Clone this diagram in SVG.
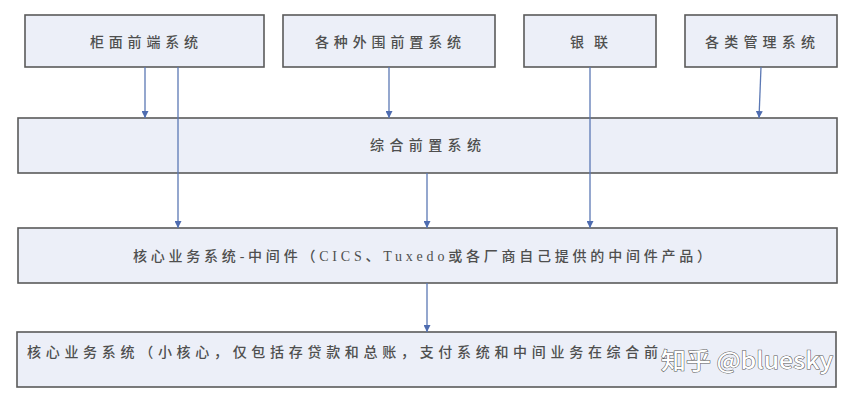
<svg xmlns="http://www.w3.org/2000/svg" width="858" height="400" viewBox="0 0 858 400">
<defs>
<style>
.box{fill:#eceff8;stroke:#5a5a5a;stroke-width:1.6}
.t{font-family:"Liberation Serif","Noto Sans CJK SC",serif;font-size:14px;fill:#4f4f4f;font-weight:500;dominant-baseline:central}
.c{stroke:#5b78b4;stroke-width:1.3;fill:none}
.wm{font-family:"Noto Sans CJK SC","Liberation Sans",sans-serif;font-size:23px;font-weight:500;fill:#fff;stroke:#555;stroke-width:1;paint-order:stroke;dominant-baseline:central}
</style>
<marker id="ah" viewBox="0 0 10 10" refX="10" refY="5" markerWidth="7" markerHeight="7" markerUnits="userSpaceOnUse" orient="auto">
<path d="M0,0 L10,5 L0,10 z" fill="#4e6cb0"/>
</marker>
</defs>
<rect width="858" height="400" fill="#fff"/>
<g id="n1">
<rect class="box" x="25" y="15" width="239" height="52"/>
<text class="t" x="90" y="42" textLength="108" lengthAdjust="spacing">柜面前端系统</text>
</g>
<g id="n2">
<rect class="box" x="283" y="15" width="212" height="52"/>
<text class="t" x="315" y="42" textLength="146" lengthAdjust="spacing">各种外围前置系统</text>
</g>
<g id="n3">
<rect class="box" x="524" y="15" width="132" height="52"/>
<text class="t" x="570" y="42" textLength="38" lengthAdjust="spacing">银联</text>
</g>
<g id="n4">
<rect class="box" x="685" y="15" width="152" height="52"/>
<text class="t" x="705" y="42" textLength="110" lengthAdjust="spacing">各类管理系统</text>
</g>
<g id="n5">
<rect class="box" x="18" y="118" width="819" height="55"/>
<text class="t" x="370" y="145" textLength="111" lengthAdjust="spacing">综合前置系统</text>
</g>
<g id="n6">
<rect class="box" x="18" y="228" width="819" height="55"/>
<text class="t" x="133" y="256" textLength="578" lengthAdjust="spacing">核心业务系统-中间件（CICS、Tuxedo或各厂商自己提供的中间件产品）</text>
</g>
<g id="n7">
<rect class="box" x="17" y="332" width="819" height="55"/>
<text class="t" x="27" y="352" textLength="631" lengthAdjust="spacing">核心业务系统（小核心，仅包括存贷款和总账，支付系统和中间业务在综合前</text>
<text class="wm" x="661" y="359" textLength="172" lengthAdjust="spacingAndGlyphs">知乎 @bluesky</text>
</g>
<g id="connectors">
<line class="c" x1="145" y1="67" x2="145" y2="118" marker-end="url(#ah)"/>
<line class="c" x1="178" y1="67" x2="178" y2="228" marker-end="url(#ah)"/>
<line class="c" x1="389" y1="67" x2="389" y2="118" marker-end="url(#ah)"/>
<line class="c" x1="590" y1="67" x2="590" y2="228" marker-end="url(#ah)"/>
<line class="c" x1="761" y1="67" x2="759" y2="118" marker-end="url(#ah)"/>
<line class="c" x1="427" y1="173" x2="427" y2="228" marker-end="url(#ah)"/>
<line class="c" x1="427" y1="283" x2="427" y2="332" marker-end="url(#ah)"/>
</g>
</svg>
